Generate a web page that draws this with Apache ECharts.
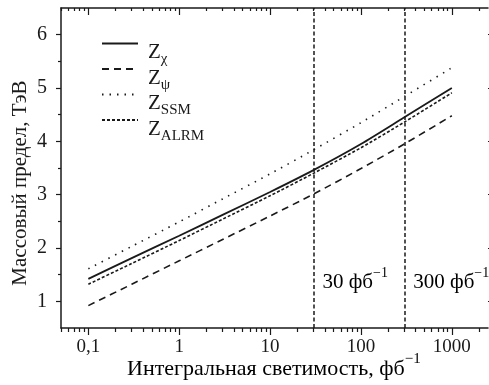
<!DOCTYPE html>
<html>
<head>
<meta charset="utf-8">
<script src="https://cdn.jsdelivr.net/npm/echarts@6/dist/echarts.min.js"></script>
<style>html,body{margin:0;padding:0;background:#fff}#c{width:489px;height:385px}</style>
</head>
<body>
<div id="c"></div>
<script>
// Data
var lumi = [0.1, 0.3, 1, 3, 10, 30, 100, 300, 1000];
var zChi  = [1.42, 1.81, 2.23, 2.62, 3.05, 3.46, 3.95, 4.45, 5.00];
var zPsi  = [0.92, 1.32, 1.76, 2.16, 2.60, 3.01, 3.49, 3.95, 4.48];
var zSSM  = [1.61, 2.03, 2.49, 2.92, 3.39, 3.84, 4.35, 4.84, 5.38];
var zALRM = [1.32, 1.71, 2.14, 2.54, 2.98, 3.40, 3.88, 4.36, 4.91];
var xMajorTicks = [0.1, 1, 10, 100, 1000];
var xMinorTicks = [0.05,0.06,0.07,0.08,0.09,0.2,0.3,0.4,0.5,0.6,0.7,0.8,0.9,2,3,4,5,6,7,8,9,20,30,40,50,60,70,80,90,200,300,400,500,600,700,800,900,2000];
var yMajorTicks = [1, 2, 3, 4, 5, 6];
var yMinorTicks = [1.5, 2.5, 3.5, 4.5, 5.5];
var markLumi = [30, 300];
var seriesNames = ['chi', 'psi', 'SSM', 'ALRM'];

var FONT = '"Liberation Serif", "Times New Roman", serif';
var BLACK = '#1a1a1a';

function pairs(ys) { return lumi.map(function (x, i) { return [x, ys[i]]; }); }

var chart = echarts.init(document.getElementById('c'), null, { renderer: 'canvas' });

function xAxisDef(pos, ticks, len, inside, showLine, showLabel) {
  return {
    type: 'log', logBase: 10, position: pos, min: 0.05, max: 2500,
    axisLine: { show: showLine, lineStyle: { color: BLACK, width: 1.5 } },
    axisTick: { show: true, customValues: ticks, inside: inside, length: len, lineStyle: { color: BLACK, width: 1.2 } },
    axisLabel: { show: showLabel, customValues: xMajorTicks, margin: 10, fontFamily: FONT, fontSize: 19, color: BLACK,
      formatter: function (v) { return String(v).replace('.', ','); } },
    splitLine: { show: false }, minorTick: { show: false }
  };
}
function yAxisDef(pos, ticks, len, inside, showLine, showLabel) {
  return {
    type: 'value', position: pos, min: 0.5, max: 6.5,
    axisLine: { show: showLine, lineStyle: { color: BLACK, width: 1.5 } },
    axisTick: { show: true, customValues: ticks, inside: inside, length: len, lineStyle: { color: BLACK, width: 1.2 } },
    axisLabel: { show: showLabel, customValues: yMajorTicks, margin: 14, fontFamily: FONT, fontSize: 20, color: BLACK },
    splitLine: { show: false }
  };
}

var legendRich = {
  z: { fontFamily: FONT, fontSize: 21, color: BLACK, verticalAlign: 'top', lineHeight: 21, padding: [9, 0, 0, 5] },
  s: { fontFamily: FONT, fontSize: 15, color: BLACK, verticalAlign: 'top', lineHeight: 15, padding: [19, 0, 0, 0] }
};
var legendSub = { chi: 'χ', psi: 'ψ', SSM: 'SSM', ALRM: 'ALRM' };

function lineSeries(name, ys, type, width) {
  return {
    name: name, type: 'line', data: pairs(ys), smooth: 0.25, showSymbol: false, symbol: 'none',
    xAxisIndex: 0, yAxisIndex: 0,
    lineStyle: { color: BLACK, width: width, type: type, cap: 'butt' },
    itemStyle: { color: BLACK },
    emphasis: { disabled: true }, silent: true
  };
}

var chiSeries = lineSeries('chi', zChi, 'solid', 1.8);
chiSeries.markLine = {
  silent: true, symbol: 'none', label: { show: false },
  lineStyle: { color: BLACK, width: 1.5, type: [4, 2.5] },
  data: markLumi.map(function (v) { return { xAxis: v }; })
};

chart.setOption({
  animation: false,
  backgroundColor: '#fff',
  grid: { left: 61, right: 1, top: 8, bottom: 57, containLabel: false },
  xAxis: [
    xAxisDef('bottom', xMajorTicks, 7, false, true, true),
    xAxisDef('bottom', xMinorTicks, 4, false, false, false),
    xAxisDef('top', xMajorTicks, 7, true, true, false),
    xAxisDef('top', xMinorTicks, 3, true, false, false)
  ],
  yAxis: [
    yAxisDef('left', yMajorTicks, 5, false, true, true),
    yAxisDef('left', yMinorTicks, 3, false, false, false),
    yAxisDef('right', yMajorTicks, 3, false, false, false)
  ],
  legend: {
    orient: 'vertical', left: 101, top: 33, padding: 0, itemWidth: 36, itemHeight: 14, itemGap: -8.5,
    selectedMode: false,
    data: seriesNames,
    itemStyle: { opacity: 0, color: 'rgba(0,0,0,0)', borderWidth: 0 },
    formatter: function (n) { return '{z|Z}{s|' + legendSub[n] + '}'; },
    textStyle: { rich: legendRich }
  },
  series: [
    chiSeries,
    lineSeries('psi', zPsi, [7, 5], 1.6),
    lineSeries('SSM', zSSM, [1.5, 6], 1.6),
    lineSeries('ALRM', zALRM, [3, 2], 1.6)
  ]
});

var supRich = {
  m: { fontFamily: FONT, fontSize: 21, color: BLACK, verticalAlign: 'top', lineHeight: 22, padding: [6, 0, 0, 0] },
  p: { fontFamily: FONT, fontSize: 14, color: BLACK, verticalAlign: 'top', lineHeight: 15 }
};
var nameRich = {
  m: { fontFamily: FONT, fontSize: 22, color: BLACK, verticalAlign: 'top', lineHeight: 23, padding: [6, 0, 0, 0] },
  p: { fontFamily: FONT, fontSize: 15, color: BLACK, verticalAlign: 'top', lineHeight: 16 }
};
var graphics = [];
markLumi.forEach(function (v) {
  var p = chart.convertToPixel({ xAxisIndex: 0, yAxisIndex: 0 }, [v, 1.45]);
  graphics.push({
    type: 'text', left: p[0] + 9, top: p[1] - 11, silent: true,
    style: { text: '{m|' + v + ' фб}{p|−1}', rich: supRich }
  });
});
graphics.push({
  type: 'text', left: 127, top: 352, silent: true,
  style: { text: '{m|Интегральная светимость, фб}{p|−1}', rich: nameRich }
});
graphics.push({
  type: 'text', rotation: Math.PI / 2, x: 20, y: 183, silent: true,
  style: { text: 'Массовый предел, ТэВ', fontFamily: FONT, fontSize: 21, fill: BLACK, align: 'center', verticalAlign: 'middle' }
});
chart.setOption({ graphic: graphics });
</script>
</body>
</html>
